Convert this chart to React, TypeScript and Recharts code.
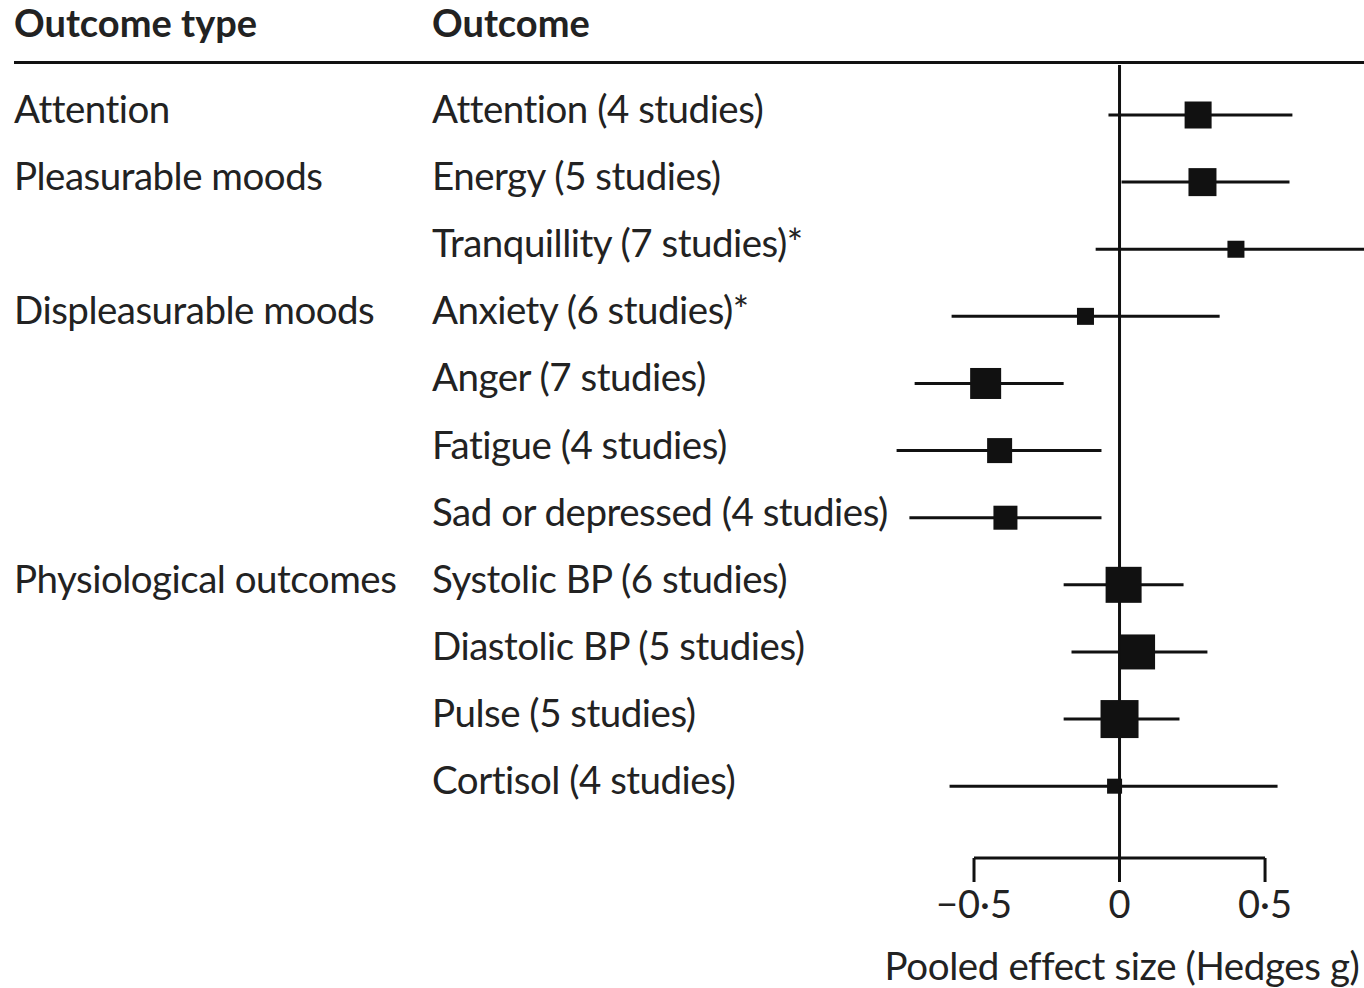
import React from "react";
import {
  ScatterChart,
  Scatter,
  XAxis,
  YAxis,
  ErrorBar,
  ReferenceLine,
} from "recharts";

const FONT = "Lato, 'Open Sans', sans-serif";
const INK = "#111";

// one entry per row, top to bottom
const outcomeTypes = [
  "Attention",
  "Pleasurable moods",
  "",
  "Displeasurable moods",
  "",
  "",
  "",
  "Physiological outcomes",
  "",
  "",
  "",
];
const outcomes = [
  "Attention (4 studies)",
  "Energy (5 studies)",
  "Tranquillity (7 studies)*",
  "Anxiety (6 studies)*",
  "Anger (7 studies)",
  "Fatigue (4 studies)",
  "Sad or depressed (4 studies)",
  "Systolic BP (6 studies)",
  "Diastolic BP (5 studies)",
  "Pulse (5 studies)",
  "Cortisol (4 studies)",
];
const effect = [0.27, 0.285, 0.4, -0.117, -0.46, -0.412, -0.392, 0.014, 0.062, 0.0, -0.017];
const ciLow = [-0.038, 0.007, -0.082, -0.577, -0.704, -0.766, -0.722, -0.192, -0.165, -0.192, -0.584];
const ciHigh = [0.594, 0.584, 0.9, 0.344, -0.192, -0.062, -0.062, 0.22, 0.302, 0.206, 0.543];
const weights = [27, 28, 17, 17, 31, 25, 24, 36, 35, 38, 15];
const xTicks = [-0.5, 0, 0.5];

const X_DOMAIN: [number, number] = [-0.823, 0.84];
const Y_DOMAIN: [number, number] = [0.255, 12.07];

const rows = outcomes.map((name, i) => ({
  row: i + 1,
  name,
  type: outcomeTypes[i],
  g: effect[i],
  err: [effect[i] - ciLow[i], ciHigh[i] - effect[i]],
  w: weights[i],
}));

const fmtTick = (v: number) =>
  v === 0 ? "0" : (v < 0 ? "\u2212" : "") + String(Math.abs(v)).replace(".", "\u00b7");

function RowLabel(props: any) {
  const { y, payload } = props;
  const r = rows[payload.value - 1];
  if (!r) return null;
  return (
    <g fontFamily={FONT} fontSize={38.5} letterSpacing={-0.5} fill="#222">
      {r.type && (
        <text x={14} y={y + 8}>
          {r.type}
        </text>
      )}
      <text x={432} y={y + 8}>
        {r.name}
      </text>
    </g>
  );
}

function Box(props: any) {
  const { cx, cy, payload } = props;
  const s = payload.w;
  return <rect x={cx - s / 2} y={cy - s / 2} width={s} height={s} fill={INK} />;
}

const headStyle: React.CSSProperties = {
  position: "absolute",
  top: 2,
  fontFamily: FONT,
  fontWeight: 700,
  fontSize: 38,
  lineHeight: "40px",
  color: "#222",
};

export default function App() {
  return (
    <div style={{ position: "absolute", left: 0, top: 0, width: 1364, height: 988, background: "#fff" }}>
      <div style={{ ...headStyle, left: 14 }}>Outcome type</div>
      <div style={{ ...headStyle, left: 432 }}>Outcome</div>
      <div style={{ position: "absolute", top: 61, left: 14, width: 1350, height: 3, background: INK }} />
      <ScatterChart width={1364} height={988} margin={{ top: 65, right: 0, bottom: 0, left: 0 }}>
        <XAxis
          type="number"
          dataKey="g"
          domain={X_DOMAIN}
          allowDataOverflow
          ticks={xTicks}
          tickFormatter={fmtTick}
          axisLine={false}
          tickLine={{ stroke: INK, strokeWidth: 3 }}
          tickSize={24}
          tickMargin={9}
          tick={{ fontSize: 38, fill: "#222", fontFamily: FONT }}
          height={130}
          label={{
            value: "Pooled effect size (Hedges g)",
            position: "insideBottom",
            offset: 8,
            fontSize: 38.5,
            letterSpacing: -0.4,
            fill: "#222",
            fontFamily: FONT,
          }}
        />
        <YAxis
          type="number"
          dataKey="row"
          domain={Y_DOMAIN}
          allowDataOverflow
          reversed
          ticks={rows.map((r) => r.row)}
          width={880}
          axisLine={false}
          tickLine={false}
          tick={<RowLabel />}
        />
        <ReferenceLine x={0} stroke={INK} strokeWidth={3} />
        <ReferenceLine
          segment={[
            { x: xTicks[0], y: Y_DOMAIN[1] },
            { x: xTicks[xTicks.length - 1], y: Y_DOMAIN[1] },
          ]}
          stroke={INK}
          strokeWidth={3}
          ifOverflow="visible"
        />
        <Scatter data={rows} shape={<Box />} isAnimationActive={false}>
          <ErrorBar dataKey="err" direction="x" width={0} stroke={INK} strokeWidth={3} />
        </Scatter>
      </ScatterChart>
    </div>
  );
}
